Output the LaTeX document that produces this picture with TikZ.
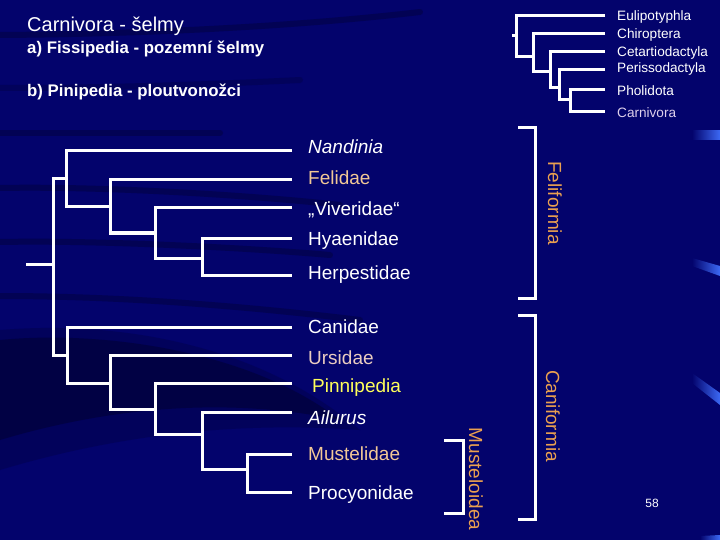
\documentclass[tikz,border=0pt]{standalone}
\usepackage{fontspec}
\setmainfont{Liberation Sans}
\definecolor{bg}{RGB}{3,3,108}
\definecolor{peach}{RGB}{242,200,150}
\definecolor{pinkp}{RGB}{234,204,192}
\definecolor{yel}{RGB}{255,255,90}
\definecolor{org}{RGB}{234,160,80}
\definecolor{lav}{RGB}{222,208,236}
\definecolor{streak}{RGB}{60,105,245}
\begin{document}
\begin{tikzpicture}[x=1pt,y=-1pt,
  branch/.style={draw=white, line width=3pt, line join=miter},
  tax/.style={anchor=base west, text=white, font=\fontsize{19}{19}\selectfont, inner sep=0pt},
  sm/.style={anchor=base west, text=white, font=\fontsize{13.6}{13.6}\selectfont, inner sep=0pt},
  clade/.style={text=org, rotate=-90, font=\fontsize{19}{19}\selectfont, inner sep=0pt},
  darkband/.style={draw=black, opacity=0.22, line width=6pt, line cap=round}]
\useasboundingbox (0,0) rectangle (720,540);
% background
\fill[bg] (0,0) rectangle (720,540);
\draw[darkband] (0,35) .. controls (150,34) and (300,26) .. (420,12);
\draw[darkband, opacity=0.15] (0,88) .. controls (100,88) and (200,85) .. (300,80);
\draw[darkband] (0,133) -- (220,133);
\draw[darkband] (0,188) .. controls (100,186) and (250,195) .. (340,205);
\draw[darkband] (0,242) .. controls (100,240) and (250,248) .. (330,255);
\draw[darkband] (0,296) .. controls (100,296) and (220,303) .. (360,320);
\fill[black, opacity=0.25] (0,340) .. controls (100,330) and (250,350) .. (340,420)
   .. controls (220,395) and (100,410) .. (0,440) -- cycle;
\fill[black, opacity=0.15] (0,330) .. controls (120,320) and (260,345) .. (360,430)
   .. controls (220,420) and (100,440) .. (0,470) -- cycle;
\shade[left color=bg, right color=streak] (692,131) -- (720,131) -- (720,140) -- (692,140) -- cycle;
\shade[left color=bg, right color=streak] (692,258) -- (720,266) -- (720,276) -- (692,266) -- cycle;
\shade[left color=bg, right color=streak] (692,373) -- (720,393) -- (720,405) -- (692,383) -- cycle;
\shade[left color=bg, right color=streak] (700,536) -- (720,535) -- (720,540) -- (700,540) -- cycle;

% titles
\node[anchor=base west, text=white, font=\fontsize{20}{20}\selectfont, inner sep=0pt] (t1) at (27,32) {Carnivora - šelmy};
\node[anchor=base west, text=white, font=\fontsize{16.8}{17}\selectfont\bfseries, inner sep=0pt] (t2) at (27,54) {a) Fissipedia - pozemní šelmy};
\node[anchor=base west, text=white, font=\fontsize{16.8}{17}\selectfont\bfseries, inner sep=0pt] (t3) at (27,97) {b) Pinipedia - ploutvonožci};

% top-right tree
\coordinate (s0) at (512,36);
\coordinate (T1) at (516,36);
\coordinate (T2) at (533,57);
\coordinate (T3) at (550,72);
\coordinate (T4) at (559,88);
\coordinate (T5) at (570,100);
\coordinate (eEul) at (605,16);
\coordinate (eChi) at (605,34);
\coordinate (eCet) at (605,52);
\coordinate (ePer) at (605,70);
\coordinate (ePho) at (605,90);
\coordinate (eCar) at (605,112);
\draw[branch] (s0) -- (T1);
\draw[branch] (eEul) -| (T1) |- (T2);
\draw[branch] (eChi) -| (T2) |- (T3);
\draw[branch] (eCet) -| (T3) |- (T4);
\draw[branch] (ePer) -| (T4) |- (T5);
\draw[branch] (ePho) -| (T5) |- (eCar);
\node[sm] (lEul) at (617,20.5) {Eulipotyphla};
\node[sm] (lChi) at (617,38.5) {Chiroptera};
\node[sm] (lCet) at (617,56.5) {Cetartiodactyla};
\node[sm] (lPer) at (617,72.5) {Perissodactyla};
\node[sm] (lPho) at (617,95.5) {Pholidota};
\node[sm, text=lav] (lCar) at (617,117.5) {Carnivora};

% main tree
\coordinate (r0) at (26,264);
\coordinate (R) at (53,264);
\coordinate (F) at (66,179);
\coordinate (F2) at (110,207);
\coordinate (F3) at (155,233);
\coordinate (F4) at (202,258);
\coordinate (C) at (67,355);
\coordinate (C2) at (110,383);
\coordinate (C3) at (155,409);
\coordinate (C4) at (202,434);
\coordinate (C5) at (247,469);
\coordinate (eNan) at (292,151);
\coordinate (eFel) at (292,180);
\coordinate (eViv) at (292,208);
\coordinate (eHya) at (292,238);
\coordinate (eHer) at (292,275);
\coordinate (eCan) at (292,327);
\coordinate (eUrs) at (292,355);
\coordinate (ePin) at (292,383);
\coordinate (eAil) at (292,412);
\coordinate (eMus) at (292,454);
\coordinate (ePro) at (292,492);
\draw[branch] (r0) -- (R);
\draw[branch] (F) -| (R) |- (C);
\draw[branch] (eNan) -| (F) |- (F2);
\draw[branch] (eFel) -| (F2) |- (F3);
\draw[branch] (eViv) -| (F3) |- (F4);
\draw[branch] (eHya) -| (F4) |- (eHer);
\draw[branch] (eCan) -| (C) |- (C2);
\draw[branch] (eUrs) -| (C2) |- (C3);
\draw[branch] (ePin) -| (C3) |- (C4);
\draw[branch] (eAil) -| (C4) |- (C5);
\draw[branch] (eMus) -| (C5) |- (ePro);

\node[tax, font=\fontsize{19}{19}\selectfont\itshape] (lNan) at (308,154) {Nandinia};
\node[tax, text=peach] (lFel) at (308,185) {Felidae};
\node[tax] (lViv) at (308,215) {„Viveridae“};
\node[tax] (lHya) at (308,245) {Hyaenidae};
\node[tax] (lHer) at (308,279) {Herpestidae};
\node[tax] (lCan) at (308,333) {Canidae};
\node[tax, text=pinkp] (lUrs) at (308,364) {Ursidae};
\node[tax, text=yel] (lPin) at (312,392) {Pinnipedia};
\node[tax, font=\fontsize{19}{19}\selectfont\itshape] (lAil) at (308,424) {Ailurus};
\node[tax, text=peach] (lMus) at (308,460) {Mustelidae};
\node[tax] (lPro) at (308,499) {Procyonidae};

% brackets
\draw[branch] (518,128) -- (535,128) -- (535,298) -- (518,298);
\draw[branch] (518,315) -- (535,315) -- (535,519) -- (518,519);
\draw[branch] (444,440) -- (463,440) -- (463,513) -- (444,513);
\node[clade] (fel) at (555,203) {Feliformia};
\node[clade] (can) at (553,416) {Caniformia};
\node[clade] (mus) at (476,479) {Musteloidea};

\node[text=white, font=\fontsize{12}{12}\selectfont, inner sep=0pt] (pg) at (652,503) {58};
\end{tikzpicture}
\end{document}
